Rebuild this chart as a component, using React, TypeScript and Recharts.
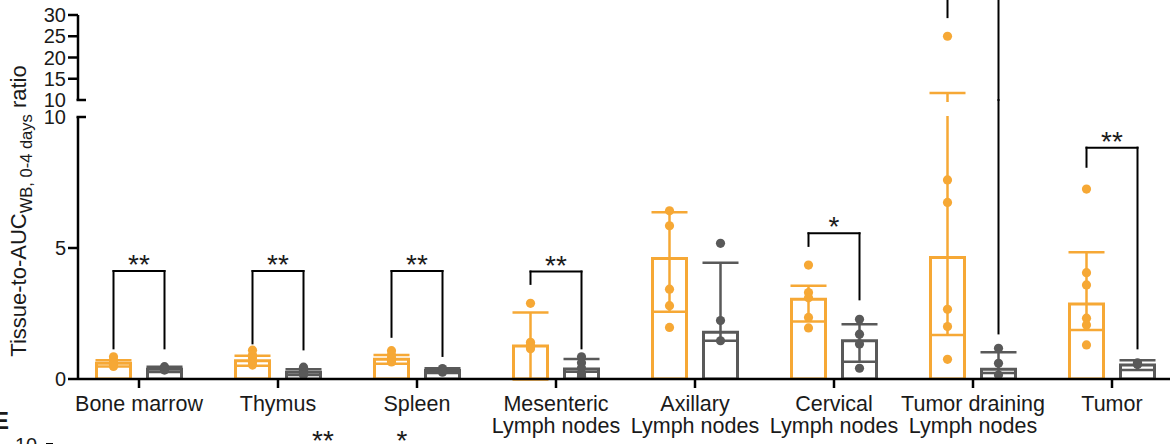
import React from 'react';
import { ComposedChart, Bar, ErrorBar, Scatter, XAxis, YAxis, ReferenceLine } from 'recharts';

// categories and values (lower axis 0-10, upper axis 10-30)
const categories = [
  'Bone marrow',
  'Thymus',
  'Spleen',
  'Mesenteric\nLymph nodes',
  'Axillary\nLymph nodes',
  'Cervical\nLymph nodes',
  'Tumor draining\nLymph nodes',
  'Tumor',
];

// orange group
const meanA = [0.6, 0.7, 0.75, 1.26, 4.6, 3.04, 4.64, 2.86];
const errA: [number, number][] = [
  [0.12, 0.12], [0.19, 0.19], [0.17, 0.17], [1.28, 1.28],
  [2.03, 1.76], [0.85, 0.52], [2.96, 7.0], [0.99, 1.98],
];
const pointsA = [
  [0.85, 0.72, 0.62, 0.55, 0.48],
  [1.1, 0.92, 0.8, 0.65, 0.53],
  [1.08, 0.92, 0.8, 0.72, 0.65],
  [2.89, 1.4, 1.3, 1.22, 1.15],
  [6.42, 5.85, 3.43, 2.8, 1.97],
  [4.35, 3.3, 3.1, 2.35, 1.95],
  [25, 7.6, 6.74, 2.66, 2.0, 0.75],
  [7.25, 4.06, 3.59, 2.32, 2.06, 1.3],
];

// gray group
const meanB = [0.37, 0.26, 0.32, 0.38, 1.78, 1.46, 0.37, 0.53];
const errB: [number, number][] = [
  [0.1, 0.1], [0.11, 0.11], [0.09, 0.09], [0.1, 0.38],
  [0.32, 2.66], [0.8, 0.63], [0.14, 0.65], [0.19, 0.19],
];
const pointsB = [
  [0.47, 0.42, 0.38, 0.34],
  [0.45, 0.33, 0.22, 0.15],
  [0.4, 0.35, 0.3, 0.26],
  [0.85, 0.62, 0.42, 0.2, 0.1],
  [5.18, 2.23, 1.46],
  [2.28, 1.71, 1.34, 0.41],
  [1.17, 0.6, 0.15],
  [0.62, 0.58, 0.55],
];

// significance brackets (lower axis): category index, top, orange leg end, gray leg end, stars
const brackets = [
  { i: 0, top: 4.12, legA: 1.17, legB: 1.17, stars: '**' },
  { i: 1, top: 4.12, legA: 1.36, legB: 1.13, stars: '**' },
  { i: 2, top: 4.12, legA: 1.61, legB: 0.88, stars: '**' },
  { i: 3, top: 4.1, legA: 3.63, legB: 1.17, stars: '**' },
  { i: 5, top: 5.56, legA: 5.08, legB: 3.04, stars: '*' },
  { i: 7, top: 8.83, legA: 8.1, legB: 1.17, stars: '**' },
];
// tumor draining bracket runs through the axis break and off the top
const tdlnUpper = { i: 6, top: 34, legA: 29.5, legB: 10 };
const tdlnLower = { i: 6, from: 1.74, to: 10.65 };

const lowerTicks = [0, 5, 10];
const upperTicks = [10, 15, 20, 25, 30];

const ORANGE = '#F6A835';
const GRAY = '#595959';
const INK = '#1a1a1a';
const FONT = '"Liberation Sans", Arial, Helvetica, sans-serif';

const CHART_W = 1190;
const AXIS_W = 78;
const RIGHT = 8.5;
const X_AXIS_H = 65;
const UPPER_TOP = 15;
const UPPER_H = 117;
const UPPER_BOTTOM = 17;
const LOWER_TOP = 117;
const PAD = { left: -8.5, right: 0 };
const BAR_SIZE = 34;
const BAR_GAP = 17;
const BAND = 139;
const D = (BAR_SIZE + BAR_GAP) / 2 / BAND;
const TICK = 10;
const TICK_MARGIN = 2;

const barData = categories.map((name, i) => ({
  name,
  a: meanA[i],
  b: meanB[i],
  aErr: errA[i],
  bErr: errB[i],
}));

const dotsA = pointsA.flatMap((vals, i) => vals.map(v => ({ x: i + 0.5 - D, y: v })));
const dotsB = pointsB.flatMap((vals, i) => vals.map(v => ({ x: i + 0.5 + D, y: v })));
const starData = brackets.map(b => ({ x: b.i + 0.5, y: b.top, label: b.stars }));

const orangeDot = (p: any) => <circle cx={p.cx} cy={p.cy} r={4.6} fill={ORANGE} />;
const grayDot = (p: any) => <circle cx={p.cx} cy={p.cy} r={4.6} fill={GRAY} />;
const starShape = (p: any) => (
  <text x={p.cx} y={p.cy + 3} textAnchor="middle" fontSize={28} fontFamily={FONT} fill={INK}>
    {p.payload.label}
  </text>
);

const CatTick = (props: any) => {
  const { x, y, payload } = props;
  const lines = String(payload.value).split('\n');
  return (
    <text x={x} y={y} textAnchor="middle" fontSize={21.5} fontFamily={FONT} fill={INK}>
      {lines.map((l, k) => (
        <tspan key={k} x={x} dy={k === 0 ? 21 : 22}>{l}</tspan>
      ))}
    </text>
  );
};

const ValTick = (props: any) => {
  const { x, y, payload } = props;
  const axisX = x + TICK + TICK_MARGIN;
  const isBreak = payload.value === 10;
  return (
    <g>
      {isBreak ? (
        <line x1={axisX - 1.5} x2={axisX + 8} y1={y} y2={y} stroke="#000" strokeWidth={2.5} />
      ) : (
        <line x1={axisX - TICK} x2={axisX} y1={y} y2={y} stroke="#000" strokeWidth={2.5} />
      )}
      <text x={x} y={y} dy="0.36em" textAnchor="end" fontSize={20} fontFamily={FONT} fill={INK}>
        {payload.value}
      </text>
    </g>
  );
};

const seg = (x1: number, y1: number, x2: number, y2: number, key: string) => (
  <ReferenceLine
    key={key}
    xAxisId="num"
    segment={[{ x: x1, y: y1 }, { x: x2, y: y2 }]}
    stroke="#000"
    strokeWidth={2}
    strokeLinecap="square"
    ifOverflow="visible"
  />
);

// bars, error bars and dots; bars outlined only in the lower segment
const series = (showBars: boolean) => [
  <Bar
    key="a"
    xAxisId="cat"
    dataKey="a"
    fill={showBars ? '#fff' : 'none'}
    stroke={showBars ? ORANGE : 'none'}
    strokeWidth={3}
    isAnimationActive={false}
  >
    <ErrorBar dataKey="aErr" width={18} stroke={ORANGE} strokeWidth={2.5} direction="y" />
  </Bar>,
  <Bar
    key="b"
    xAxisId="cat"
    dataKey="b"
    fill={showBars ? '#fff' : 'none'}
    stroke={showBars ? GRAY : 'none'}
    strokeWidth={3}
    isAnimationActive={false}
  >
    <ErrorBar dataKey="bErr" width={18} stroke={GRAY} strokeWidth={2.5} direction="y" />
  </Bar>,
  <Scatter key="da" xAxisId="num" data={dotsA} dataKey="y" shape={orangeDot} isAnimationActive={false} />,
  <Scatter key="db" xAxisId="num" data={dotsB} dataKey="y" shape={grayDot} isAnimationActive={false} />,
];

// invisible bars so the axes-only charts share the same band layout
const ghostBars = [
  <Bar key="ga" xAxisId="cat" dataKey="a" fill="none" stroke="none" isAnimationActive={false} />,
  <Bar key="gb" xAxisId="cat" dataKey="b" fill="none" stroke="none" isAnimationActive={false} />,
];

const numAxis = <XAxis key="num" xAxisId="num" type="number" dataKey="x" domain={[0, 8]} allowDataOverflow hide padding={PAD} />;
const hiddenCat = <XAxis key="cat" xAxisId="cat" dataKey="name" type="category" hide padding={PAD} />;

const valAxis = (domain: [number, number], ticks: number[]) => (
  <YAxis
    width={AXIS_W}
    domain={domain}
    ticks={ticks}
    interval={0}
    allowDataOverflow
    axisLine={{ stroke: '#000', strokeWidth: 2.5 }}
    tickLine={false}
    tickSize={TICK}
    tickMargin={TICK_MARGIN}
    tick={<ValTick />}
  />
);

const App: React.FC = () => {
  return (
    <div style={{ position: 'absolute', left: 0, top: 0, width: 1170, height: 444, overflow: 'hidden', background: '#fff' }}>
      {/* upper segment 10-30: data, cut at the axis break */}
      <div style={{ position: 'absolute', left: 0, top: 0, width: CHART_W, height: 101.5, overflow: 'hidden' }}>
        <ComposedChart
          width={CHART_W}
          height={UPPER_H}
          data={barData}
          margin={{ top: UPPER_TOP, right: RIGHT, bottom: UPPER_BOTTOM, left: AXIS_W }}
          barGap={BAR_GAP}
          barSize={BAR_SIZE}
        >
          {hiddenCat}
          {numAxis}
          <YAxis hide domain={[10, 30]} allowDataOverflow />
          {series(false)}
        </ComposedChart>
      </div>

      {/* upper segment 10-30: axis and bracket */}
      <div style={{ position: 'absolute', left: 0, top: 0 }}>
        <ComposedChart
          width={CHART_W}
          height={UPPER_H}
          data={barData}
          margin={{ top: UPPER_TOP, right: RIGHT, bottom: UPPER_BOTTOM, left: 0 }}
          barGap={BAR_GAP}
          barSize={BAR_SIZE}
        >
          {hiddenCat}
          {numAxis}
          {valAxis([10, 30], upperTicks)}
          {ghostBars}
          {seg(tdlnUpper.i + 0.5 - D, tdlnUpper.legA, tdlnUpper.i + 0.5 - D, tdlnUpper.top, 'ua')}
          {seg(tdlnUpper.i + 0.5 - D, tdlnUpper.top, tdlnUpper.i + 0.5 + D, tdlnUpper.top, 'ut')}
          {seg(tdlnUpper.i + 0.5 + D, tdlnUpper.top, tdlnUpper.i + 0.5 + D, tdlnUpper.legB, 'ub')}
        </ComposedChart>
      </div>

      {/* lower segment 0-10: data, cut at the axis break */}
      <div style={{ position: 'absolute', left: 0, top: LOWER_TOP - 1, width: CHART_W, height: 444 - LOWER_TOP + 1, overflow: 'hidden' }}>
        <div style={{ position: 'absolute', left: 0, top: -(LOWER_TOP - 1) }}>
          <ComposedChart
            width={CHART_W}
            height={444}
            data={barData}
            margin={{ top: LOWER_TOP, right: RIGHT, bottom: X_AXIS_H, left: AXIS_W }}
            barGap={BAR_GAP}
            barSize={BAR_SIZE}
          >
            {hiddenCat}
            {numAxis}
            <YAxis hide domain={[0, 10]} allowDataOverflow />
            {series(true)}
          </ComposedChart>
        </div>
      </div>

      {/* lower segment 0-10: axes, brackets and stars */}
      <div style={{ position: 'absolute', left: 0, top: 0 }}>
        <ComposedChart
          width={CHART_W}
          height={444}
          data={barData}
          margin={{ top: LOWER_TOP, right: RIGHT, bottom: 0, left: 0 }}
          barGap={BAR_GAP}
          barSize={BAR_SIZE}
        >
          <XAxis
            xAxisId="cat"
            dataKey="name"
            type="category"
            height={X_AXIS_H}
            padding={PAD}
            interval={0}
            axisLine={{ stroke: '#000', strokeWidth: 2.5 }}
            tickLine={{ stroke: '#000', strokeWidth: 2.5 }}
            tickSize={9}
            tickMargin={2}
            tick={<CatTick />}
          />
          {numAxis}
          {valAxis([0, 10], lowerTicks)}
          {ghostBars}
          {brackets.flatMap(b => [
            seg(b.i + 0.5 - D, b.legA, b.i + 0.5 - D, b.top, `a${b.i}`),
            seg(b.i + 0.5 - D, b.top, b.i + 0.5 + D, b.top, `t${b.i}`),
            seg(b.i + 0.5 + D, b.top, b.i + 0.5 + D, b.legB, `b${b.i}`),
          ])}
          {seg(tdlnLower.i + 0.5 + D, tdlnLower.from, tdlnLower.i + 0.5 + D, tdlnLower.to, 'lb')}
          <Scatter xAxisId="num" data={starData} dataKey="y" shape={starShape} isAnimationActive={false} />
        </ComposedChart>
      </div>

      {/* axis title and the top edge of the next panel */}
      <svg width={1170} height={444} style={{ position: 'absolute', left: 0, top: 0, pointerEvents: 'none' }}>
        <text transform="translate(26,211) rotate(-90)" textAnchor="middle" fontSize={22} fontFamily={FONT} fill={INK}>
          Tissue-to-AUC
          <tspan fontSize={16.5} dy={6}>WB, 0-4 days</tspan>
          <tspan dy={-6}> ratio</tspan>
        </text>
        <text x={-7} y={429} fontSize={24} fontWeight="bold" fontFamily={FONT} fill={INK}>E</text>
        <text x={15} y={452} fontSize={20} fontFamily={FONT} fill={INK}>10</text>
        <line x1={46} x2={53} y1={444} y2={444} stroke="#000" strokeWidth={2} />
        <text x={323} y={450} textAnchor="middle" fontSize={28} fontFamily={FONT} fill={INK}>**</text>
        <text x={402} y={450} textAnchor="middle" fontSize={28} fontFamily={FONT} fill={INK}>*</text>
      </svg>
    </div>
  );
};

export default App;
